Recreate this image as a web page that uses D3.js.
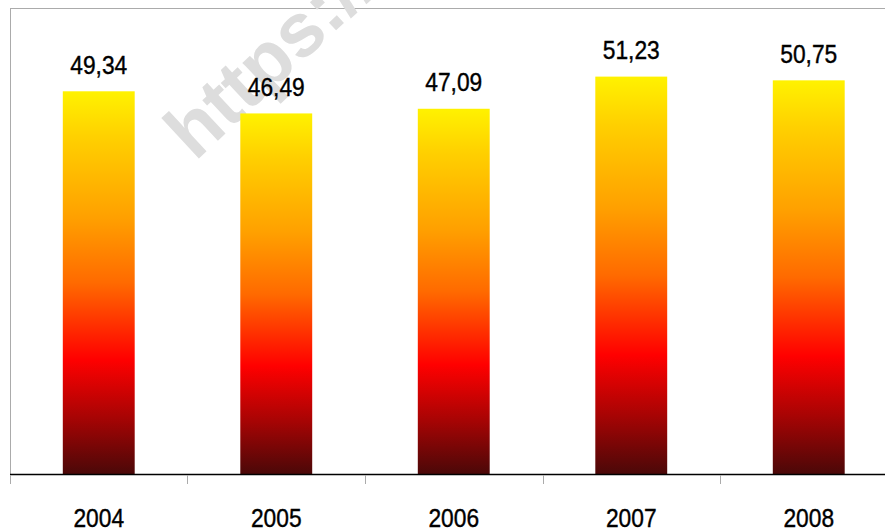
<!DOCTYPE html>
<html>
<head>
<meta charset="utf-8">
<script src="https://cdn.jsdelivr.net/npm/d3@7"></script>
<style>
html,body{margin:0;padding:0;background:#fff;overflow:hidden;}
svg{display:block;}
</style>
</head>
<body>
<svg id="chart" width="885" height="531"></svg>
<script>
const categories = ["2004", "2005", "2006", "2007", "2008"];
const values = [49.34, 46.49, 47.09, 51.23, 50.75];
const yDomain = [0, 60];
const watermarkText = "https://";

const W = 885, H = 531;
const svg = d3.select("#chart");
const font = "'Liberation Sans', Arial, sans-serif";
const narrow = 0.86;

const x = d3.scaleBand().domain(categories).range([10, 897.5])
  .paddingInner(0.595).paddingOuter(0.2975);
const y = d3.scaleLinear().domain(yDomain).range([474.5, 8.5]);

const fmt = d3.formatLocale({decimal: ",", thousands: ".", grouping: [3], currency: ["", ""]}).format(".2f");

const defs = svg.append("defs");
const grad = defs.append("linearGradient").attr("id", "barGrad")
  .attr("x1", 0).attr("y1", 0).attr("x2", 0).attr("y2", 1);
[[0, "#fff200"], [0.12, "#ffd000"], [0.33, "#ffa000"], [0.5, "#ff6a00"], [0.7, "#ff0000"], [0.85, "#a80404"], [1, "#4a0808"]]
  .forEach(([o, c]) => grad.append("stop").attr("offset", o).attr("stop-color", c));

// frame lines
svg.append("line").attr("x1", 10).attr("x2", W).attr("y1", 8.5).attr("y2", 8.5)
  .attr("stroke", "#ababab").attr("stroke-width", 1);
svg.append("line").attr("x1", 10.5).attr("x2", 10.5).attr("y1", 8).attr("y2", 474.5)
  .attr("stroke", "#ababab").attr("stroke-width", 1);

// watermark
svg.append("text")
  .attr("transform", "translate(195,162) rotate(-43)")
  .attr("font-family", "'Liberation Sans', Arial, sans-serif")
  .attr("font-weight", "bold")
  .attr("font-size", 76)
  .attr("fill", "#dddddd")
  .text(watermarkText);

// bars
svg.append("g").selectAll("rect").data(values).join("rect")
  .attr("x", (d, i) => x(categories[i]))
  .attr("width", x.bandwidth())
  .attr("y", d => y(d))
  .attr("height", d => y(0) - y(d))
  .attr("fill", "url(#barGrad)");

// x axis
const xAxisG = svg.append("g").attr("transform", `translate(0,${y(0)})`);
xAxisG.append("line").attr("x1", 10).attr("x2", W).attr("y1", 0).attr("y2", 0)
  .attr("stroke", "#000").attr("stroke-width", 1.3);
const step = x.step();
const tickPos = d3.range(categories.length + 1).map(i => x(categories[0]) - x.paddingOuter() * step + i * step);
xAxisG.selectAll("line.tick").data(tickPos).join("line").attr("class", "tick")
  .attr("x1", d => Math.round(d) + 0.5).attr("x2", d => Math.round(d) + 0.5)
  .attr("y1", 0.5).attr("y2", 9.5).attr("stroke", "#ababab");
xAxisG.selectAll("text").data(categories).join("text")
  .attr("transform", d => `translate(${x(d) + x.bandwidth() / 2},52.5) scale(${narrow},1)`)
  .attr("text-anchor", "middle")
  .attr("font-family", font)
  .attr("font-size", 26.5)
  .attr("fill", "#000")
  .attr("stroke", "#000").attr("stroke-width", 0.4)
  .text(d => d);

// value labels
svg.append("g").selectAll("text").data(values).join("text")
  .attr("transform", (d, i) => `translate(${x(categories[i]) + x.bandwidth() / 2},${y(d) - 17.5}) scale(${narrow},1)`)
  .attr("text-anchor", "middle")
  .attr("font-family", font)
  .attr("font-size", 26.5)
  .attr("fill", "#000")
  .attr("stroke", "#000").attr("stroke-width", 0.4)
  .text(d => fmt(d));
</script>
</body>
</html>
